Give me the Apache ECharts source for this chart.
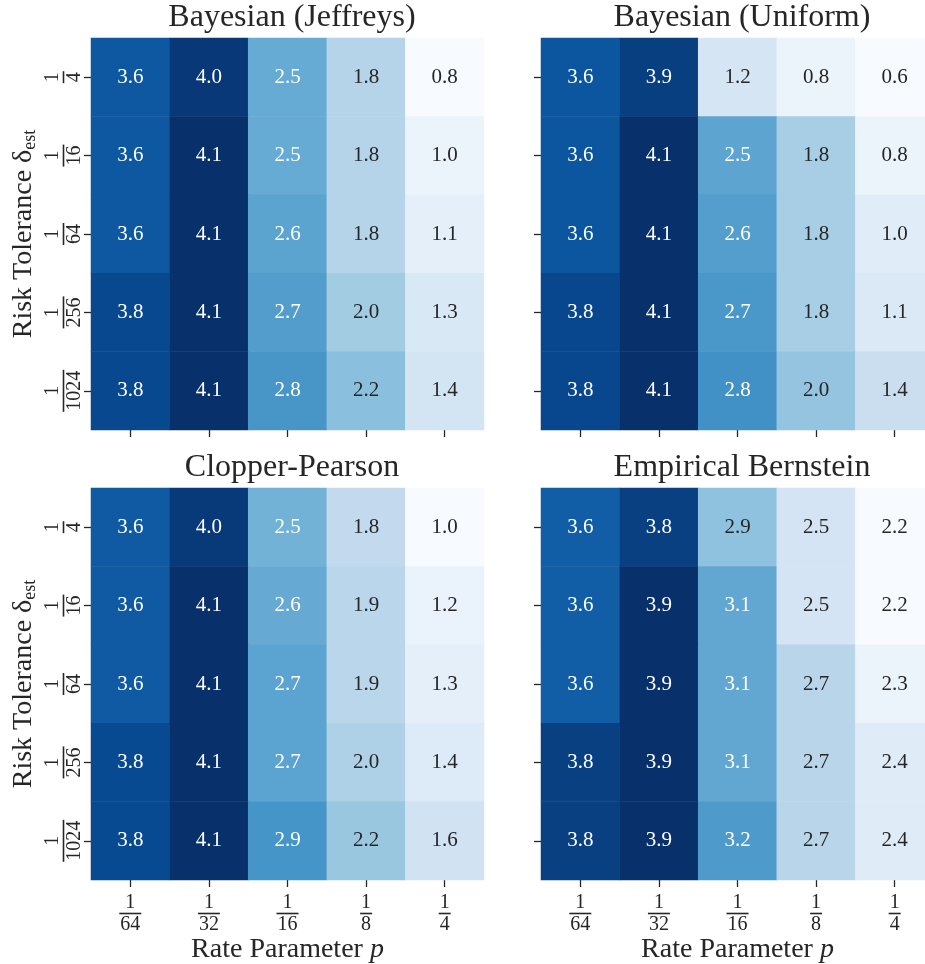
<!DOCTYPE html>
<html>
<head>
<meta charset="utf-8">
<script src="https://cdn.jsdelivr.net/npm/echarts@6/dist/echarts.min.js"></script>
<style>
  html, body { margin: 0; padding: 0; background: #fff; }
  #main { width: 925px; height: 964px; }
</style>
</head>
<body>
<div id="main"></div>
<script>
// categories
var rateCats = ['1/64', '1/32', '1/16', '1/8', '1/4'];
var riskCats = ['1/4', '1/16', '1/64', '1/256', '1/1024'];

// values, rows top to bottom (risk), columns left to right (rate)
var jeffreys = [
    [3.6, 4.0, 2.5, 1.8, 0.8],
    [3.6, 4.1, 2.5, 1.8, 1.0],
    [3.6, 4.1, 2.6, 1.8, 1.1],
    [3.8, 4.1, 2.7, 2.0, 1.3],
    [3.8, 4.1, 2.8, 2.2, 1.4]
];
var uniform = [
    [3.6, 3.9, 1.2, 0.8, 0.6],
    [3.6, 4.1, 2.5, 1.8, 0.8],
    [3.6, 4.1, 2.6, 1.8, 1.0],
    [3.8, 4.1, 2.7, 1.8, 1.1],
    [3.8, 4.1, 2.8, 2.0, 1.4]
];
var clopper = [
    [3.6, 4.0, 2.5, 1.8, 1.0],
    [3.6, 4.1, 2.6, 1.9, 1.2],
    [3.6, 4.1, 2.7, 1.9, 1.3],
    [3.8, 4.1, 2.7, 2.0, 1.4],
    [3.8, 4.1, 2.9, 2.2, 1.6]
];
var bernstein = [
    [3.6, 3.8, 2.9, 2.5, 2.2],
    [3.6, 3.9, 3.1, 2.5, 2.2],
    [3.6, 3.9, 3.1, 2.7, 2.3],
    [3.8, 3.9, 3.1, 2.7, 2.4],
    [3.8, 3.9, 3.2, 2.7, 2.4]
];
var titles = ['Bayesian (Jeffreys)', 'Bayesian (Uniform)', 'Clopper-Pearson', 'Empirical Bernstein'];
var panels = [jeffreys, uniform, clopper, bernstein];

var blues = ['#f7fbff', '#deebf7', '#c6dbef', '#9ecae1', '#6baed6', '#4292c6', '#2171b5', '#08519c', '#08306b'];
var txt = '#262626';
var font = 'Liberation Serif';

var grids = [
    {left: 91, top: 38, width: 393, height: 392, outerBoundsMode: 'none'},
    {left: 541, top: 38, width: 393, height: 392, outerBoundsMode: 'none'},
    {left: 91, top: 488, width: 393, height: 392, outerBoundsMode: 'none'},
    {left: 541, top: 488, width: 393, height: 392, outerBoundsMode: 'none'}
];

function fracLabel(v) {
    var d = v.split('/')[1];
    return '{n|1}\n{b' + d.length + '|}\n{d|' + d + '}';
}
var fracRich = {
    n: {fontFamily: font, fontSize: 20, color: txt, lineHeight: 17},
    d: {fontFamily: font, fontSize: 20, color: txt, lineHeight: 18},
    b1: {width: 12, height: 1.6, backgroundColor: txt, lineHeight: 5},
    b2: {width: 22, height: 1.6, backgroundColor: txt, lineHeight: 5},
    b3: {width: 32, height: 1.6, backgroundColor: txt, lineHeight: 5},
    b4: {width: 42, height: 1.6, backgroundColor: txt, lineHeight: 5}
};

var option = {
    backgroundColor: '#fff',
    animation: false,
    title: [],
    grid: grids,
    xAxis: [],
    yAxis: [],
    visualMap: [],
    series: []
};

panels.forEach(function (vals, i) {
    var flat = [].concat.apply([], vals);
    var vmin = Math.min.apply(null, flat), vmax = Math.max.apply(null, flat);
    var g = grids[i];
    var isBottom = i >= 2, isLeft = i % 2 == 0;
    option.title.push({
        text: titles[i],
        left: g.left + 196,
        top: g.top - 41,
        textAlign: 'center',
        textStyle: {fontFamily: font, fontSize: 32, fontWeight: 'normal', color: txt}
    });
    option.xAxis.push({
        type: 'category', gridIndex: i, data: rateCats,
        axisLine: {show: false},
        axisTick: {show: true, alignWithLabel: true, length: 7, lineStyle: {color: txt, width: 1.3}},
        axisLabel: {show: isBottom, margin: 14, formatter: fracLabel, rich: fracRich},
        splitLine: {show: false},
        name: isBottom ? 'Rate Parameter {i|p}' : '',
        nameLocation: 'middle', nameGap: 56,
        nameTextStyle: {fontFamily: font, fontSize: 28, color: txt,
            rich: {i: {fontFamily: font, fontSize: 28, fontStyle: 'italic', color: txt}}}
    });
    option.yAxis.push({
        type: 'category', gridIndex: i, data: riskCats, inverse: true,
        axisLine: {show: false},
        axisTick: {show: true, alignWithLabel: true, length: 7, lineStyle: {color: txt, width: 1.3}},
        axisLabel: {show: isLeft, rotate: 90, margin: 7, formatter: fracLabel, rich: fracRich},
        splitLine: {show: false},
        name: isLeft ? 'Risk Tolerance δ{s|est}' : '',
        nameLocation: 'middle', nameGap: 52, nameRotate: 90,
        nameTextStyle: {fontFamily: font, fontSize: 28, color: txt, lineHeight: 30,
            rich: {s: {fontFamily: font, fontSize: 18, color: txt, verticalAlign: 'bottom', lineHeight: 22}}}
    });
    option.visualMap.push({
        type: 'continuous', show: false, seriesIndex: i,
        min: vmin, max: vmax, inRange: {color: blues}
    });
    var data = [];
    vals.forEach(function (row, r) {
        row.forEach(function (v, c) {
            var t = (v - vmin) / (vmax - vmin);
            data.push({value: [c, r, v], label: {color: t > 0.45 ? '#ffffff' : txt}});
        });
    });
    option.series.push({
        type: 'heatmap', xAxisIndex: i, yAxisIndex: i, data: data,
        label: {show: true, fontFamily: font, fontSize: 21,
            formatter: function (p) { return p.value[2].toFixed(1); }},
        itemStyle: {borderWidth: 0},
        emphasis: {disabled: true}
    });
});

var myChart = echarts.init(document.getElementById('main'));
myChart.setOption(option);
</script>
</body>
</html>
